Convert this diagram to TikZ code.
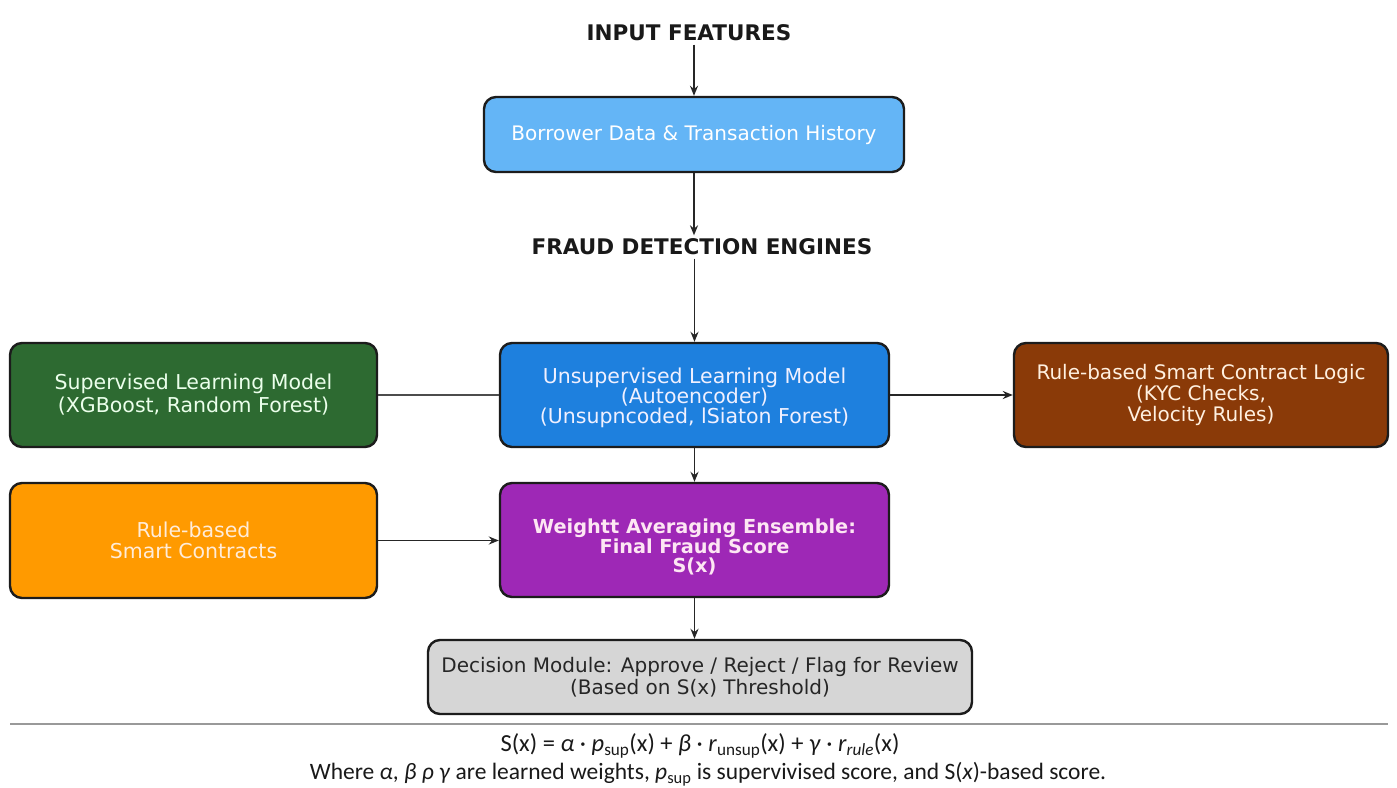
\documentclass[tikz,border=0pt]{standalone}
\usepackage{fontspec}
\setmainfont{DejaVu Sans}
\newfontfamily\capfont{Carlito}
\usetikzlibrary{arrows.meta}
\definecolor{cInput}{HTML}{64B5F6}
\definecolor{cUnsup}{HTML}{1E80DE}
\definecolor{cSup}{HTML}{2D6A31}
\definecolor{cRule}{HTML}{8A3A08}
\definecolor{cOrange}{HTML}{FF9A00}
\definecolor{cPurple}{HTML}{9E28B6}
\definecolor{cDecision}{HTML}{D6D6D6}
\definecolor{cBorder}{HTML}{1C1C1C}
\begin{document}
\begin{tikzpicture}[x=1pt,y=-1pt,
  box/.style={draw=cBorder, line width=2.4pt, rounded corners=12pt, align=center,
    inner sep=0pt, font=\fontsize{20}{22}\selectfont},
  arr/.style={-{Stealth[length=10pt,width=8pt]}, line width=1.8pt, draw=black!85},
  link/.style={line width=1.8pt, draw=black!70},
  ttl/.style={font=\bfseries\fontsize{21.5}{24}\selectfont, text=black!90},
  capt/.style={font=\capfont\fontsize{23.5}{25}\selectfont, text=black!90, inner sep=1pt},
  ptext/.style={align=center, text=magenta!10, font=\bfseries\fontsize{19.3}{19.5}\selectfont},
  utext/.style={align=center, text=blue!6, font=\fontsize{20.5}{20}\selectfont}]
\useasboundingbox (0,0) rectangle (1397,787);
\fill[white] (0,0) rectangle (1397,787);

\node[ttl] (t1) at (689,33) {INPUT FEATURES};
\node[box, fill=cInput, text=white, minimum width=420pt, minimum height=75pt] (b1) at (694,134.5)
  {Borrower Data \& Transaction History};
\node[ttl] (t2) at (702,247) {FRAUD DETECTION ENGINES};

\node[box, fill=cSup, text=green!8, minimum width=367pt, minimum height=104pt,
  font=\fontsize{20.5}{23}\selectfont] (s) at (193.5,395)
  {Supervised Learning Model\\(XGBoost, Random Forest)};
\node[box, fill=cUnsup, minimum width=389pt, minimum height=104pt] (u) at (694.5,395) {};
\node[utext] (ut) at (694.5,398)
  {Unsupervised Learning Model\\(Autoencoder)\\(Unsupncoded, lSiaton Forest)};
\node[box, fill=cRule, text=orange!12, minimum width=374pt, minimum height=104pt,
  font=\fontsize{20}{21}\selectfont] (r) at (1201,395)
  {Rule-based Smart Contract Logic\\(KYC Checks,\\Velocity Rules)};

\node[box, fill=cOrange, text=orange!15, minimum width=367pt, minimum height=115pt,
  font=\fontsize{20.5}{21.5}\selectfont] (o) at (193.5,540.5)
  {Rule-based\\Smart Contracts};
\node[box, fill=cPurple, minimum width=389pt, minimum height=114pt] (p) at (694.5,540) {};
\node[ptext] (pt) at (694.5,547)
  {Weightt Averaging Ensemble:\\Final Fraud Score\\S(x)};

\node[box, fill=cDecision, text=black!85, minimum width=544pt, minimum height=74pt] (d) at (700,677)
  {Decision Module: Approve / Reject / Flag for Review\\(Based on S(x) Threshold)};

\draw[arr] (b1.north |- t1.south) -- (b1.north);
\draw[arr] (b1.south) -- (b1.south |- t2.north);
\draw[arr] (u.north |- t2.south) -- (u.north);
\draw[link] (s.east) -- (u.west);
\draw[arr] (u.east) -- (r.west);
\draw[arr] (u.south) -- (p.north);
\draw[arr] (o.east) -- (o.east -| p.west);
\draw[arr] (p.south) -- (p.south |- d.north);

\coordinate (sepL) at (10,724);
\coordinate (sepR) at (1388,724);
\draw[line width=2pt, draw=black!40] (sepL) -- (sepR);

\node[capt, font=\capfont\fontsize{24.5}{25}\selectfont] (f) at (700,746)
  {S(x) = \textit{α} · \textit{p}\textsubscript{sup}(x) + \textit{β} · \textit{r}\textsubscript{unsup}(x) + \textit{γ} · \textit{r}\textsubscript{\textit{rule}}(x)};
\node[capt] (w) at (708,774)
  {Where \textit{α}, \textit{β} \textit{ρ} \textit{γ} are learned weights, \textit{p}\textsubscript{sup} is supervivised score, and S(\textit{x})-based score.};
\end{tikzpicture}
\end{document}
